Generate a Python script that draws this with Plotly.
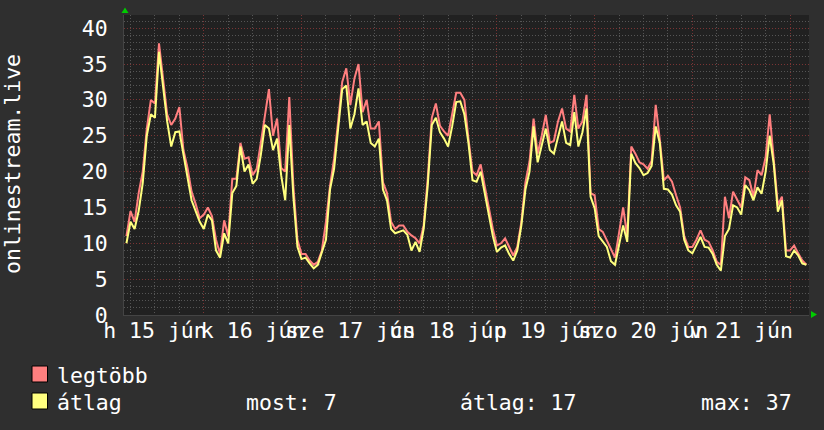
import plotly.graph_objects as go
import pandas as pd

# ---- data (hourly) ----
start_time = "2020-06-15 05:00"
legtobb = [11, 14.5, 13, 17, 20, 26, 30, 29.5, 37.9, 33, 28, 26.5, 27.4, 29, 23, 20.5, 17.2, 15.5, 13.5,
           14, 15, 13.8, 10.5, 8.5, 13.2, 11, 19, 19, 24, 21.8, 22, 19.5, 20.4, 24, 28, 31.5, 25, 27.4,
           20.5, 20, 30.4, 18, 10.5, 8.5, 8.5, 7.6, 7, 7.4, 9, 13, 18, 21.8, 27, 32.5, 34.4,
           29.3, 33, 35, 28.3, 30, 26, 26, 27, 18.5, 17, 13, 12, 12.5, 12.5, 11.6, 11.1, 10.7, 10,
           12.5, 19, 27.5, 29.5, 26.4, 25.6, 25, 28, 31, 31,
           30, 24.6, 20, 19.5, 21, 18, 14.8, 12, 9.7, 10, 10.7, 9.5, 8.3, 9.5, 13, 18.5, 21.4, 27.4,
           22.5, 25, 27.9, 24, 24.3, 27, 28.8, 26, 25.6, 30.7,
           26, 27, 30.7, 17, 16.7, 12, 11.6, 10.4, 9.3, 8, 11.5, 15, 11, 23.5, 22.5, 21.3, 21, 20.4,
           21.5, 29.3, 24.5, 18.8, 19.4, 18.6, 16.7, 15, 11, 9.5,
           9.5, 10.5, 11.8, 10.5, 10.2, 9, 7.4, 7, 16.5, 13.5, 17.2, 16, 15, 19.2, 18.8, 16.5, 20.2,
           19.5, 22, 28, 22, 15.3, 16.5, 9, 9, 9.7, 8.6, 7.6, 7]
atlag = [10, 13, 12, 14.5, 18.4, 25, 28, 27.5, 36.7, 31.5, 27, 23.5, 25.5, 25.6, 22.5, 19.5, 16, 14.5, 13,
         12, 14, 13.2, 9, 8, 11.4, 10, 17, 18, 23.5, 20, 21, 18.3, 19, 22.3, 26.5, 26, 23, 24.6,
         19.5, 16, 26.5, 16.5, 9.5, 7.8, 8, 7.2, 6.5, 7, 8.6, 10.5, 17.5, 20.4, 26, 31.5, 32,
         26, 28, 31.6, 26.5, 27, 24, 23.5, 24.6, 17.5, 16, 12, 11.4, 11.6, 11.8, 11.2, 9, 10.2, 8.8,
         12, 18, 26.5, 27.5, 25.5, 24.6, 23.5, 26.3, 29.7, 29.8,
         28, 24, 18.8, 18.6, 20, 17, 14.2, 11, 8.8, 9.4, 9.7, 8.5, 7.6, 9, 12.5, 17.5, 20, 26.3,
         21.3, 23.5, 26, 23, 22.5, 24.8, 27, 24, 23.7, 28.3,
         23.5, 25.5, 28.8, 16.5, 14.9, 11, 10.2, 9.5, 7.5, 7, 9.8, 12.5, 10.2, 22.5, 21.2, 20.5, 19.5, 19.8,
         20.8, 26.3, 24, 17.6, 17.5, 16.8, 15.3, 14.4, 10.5, 9,
         8.6, 9.8, 10.9, 9.5, 9.4, 8.5, 7, 6.2, 11, 12, 15.3, 15, 14, 18.1, 17.4, 16, 17.8,
         16.9, 20, 25, 21, 14.4, 16, 8.2, 8, 9, 8.3, 7.2, 7]
day_labels = ["h 15 jún", "k 16 jún", "sze 17 jún", "cs 18 jún", "p 19 jún", "szo 20 jún", "v 21 jún"]
label_times = ["2020-06-15 12:00", "2020-06-16 12:00", "2020-06-17 12:00", "2020-06-18 12:00",
               "2020-06-19 12:00", "2020-06-20 12:00", "2020-06-21 12:00"]
y_label = "onlinestream.live"
series_names = ["legtöbb", "átlag"]
stat_names = ["most", "átlag", "max"]
stat_values = [7, 17, 37]

times = pd.date_range(start_time, periods=len(atlag), freq="h")
x_range = ["2020-06-15 04:24", "2020-06-22 04:39"]

FONT = "DejaVu Sans Mono"
FS = 21.5
BG = "#2f2f2f"
PLOT_BG = "#212121"
RED = "#ff7f7f"
YEL = "#ffff7f"
GRID_RED = "#7a3434"
GRID_GRAY = "#555555"

W, H = 824, 430
L, R, T, B = 124, 809, 15, 315


def px(x):
    return (x - L) / (R - L)


def py(y):
    return (B - y) / (B - T)


fig = go.Figure()
fig.add_trace(go.Scatter(x=times, y=legtobb, mode="lines", line=dict(color=RED, width=2),
                         name=series_names[0], showlegend=False))
fig.add_trace(go.Scatter(x=times, y=atlag, mode="lines", line=dict(color=YEL, width=2),
                         name=series_names[1], showlegend=False))
# helper trace for the grid axis
fig.add_trace(go.Scatter(x=[times[0]], y=[None], xaxis="x2", yaxis="y", mode="lines",
                         showlegend=False, hoverinfo="skip"))

fig.update_layout(
    width=W, height=H, autosize=False,
    margin=dict(l=L, r=W - R, t=T, b=H - B, pad=0),
    paper_bgcolor=BG, plot_bgcolor=PLOT_BG,
    font=dict(family=FONT, size=FS, color="#ffffff"),
    xaxis=dict(type="date", range=x_range, tickvals=label_times, ticktext=day_labels,
               tickangle=0, showgrid=False, ticks="", zeroline=False,
               tickfont=dict(family=FONT, size=FS, color="#ffffff"),
               showline=True, linecolor="#444444", linewidth=1, ticklabelstandoff=-4),
    xaxis2=dict(type="date", range=x_range, overlaying="x", anchor="y", side="bottom",
                showticklabels=False, ticks="", dtick=86400000, tick0="2020-06-15 00:00",
                showgrid=True, gridcolor=GRID_RED, griddash="1px,2px", gridwidth=1,
                minor=dict(dtick=21600000, tick0="2020-06-15 00:00", showgrid=True,
                           gridcolor=GRID_GRAY, griddash="1px,2px", gridwidth=1),
                zeroline=False),
    yaxis=dict(range=[0, (B - T) / 7.17], dtick=5, tick0=0, ticks="",
               showgrid=True, gridcolor=GRID_RED, griddash="1px,2px", gridwidth=1,
               minor=dict(dtick=1, showgrid=True, gridcolor=GRID_GRAY, griddash="1px,2px", gridwidth=1),
               zeroline=False, tickfont=dict(family=FONT, size=FS, color="#ffffff"),
               showline=True, linecolor="#444444", linewidth=1, ticklabelstandoff=11),
    showlegend=False,
)

annotations = []
shapes = []
annotations.append(dict(text=y_label, textangle=-90, xref="paper", yref="paper",
                        x=px(12), y=py(164), xanchor="center", yanchor="middle",
                        showarrow=False, font=dict(family=FONT, size=FS, color="#ffffff")))

stat_x = [245, 459, 700]
rows = [(series_names[0], RED, 374, False), (series_names[1], YEL, 401, True)]
for name, col, yc, with_stats in rows:
    shapes.append(dict(type="rect", xref="paper", yref="paper", x0=px(32), x1=px(47.5),
                       y0=py(yc - 8), y1=py(yc + 8), fillcolor=col, line=dict(color="#000000", width=1)))
    annotations.append(dict(text=name, xref="paper", yref="paper", x=px(56), y=py(yc + 1),
                            xanchor="left", yanchor="middle", showarrow=False, borderpad=0,
                            font=dict(family=FONT, size=FS, color="#ffffff")))
    if with_stats:
        for sname, sval, xx in zip(stat_names, stat_values, stat_x):
            annotations.append(dict(text=f"{sname}: {sval}", xref="paper", yref="paper",
                                    x=px(xx), y=py(yc + 1),
                                    xanchor="left", yanchor="middle", showarrow=False, borderpad=0,
                                    font=dict(family=FONT, size=FS, color="#ffffff")))

# green axis arrows
shapes.append(dict(type="path", xref="paper", yref="paper",
                   path=f"M {px(121.5)},{py(13)} L {px(128.5)},{py(13)} L {px(125)},{py(7.5)} Z",
                   fillcolor="#00cc00", line=dict(width=0)))
shapes.append(dict(type="path", xref="paper", yref="paper",
                   path=f"M {px(811)},{py(311)} L {px(811)},{py(318)} L {px(817)},{py(314.5)} Z",
                   fillcolor="#00cc00", line=dict(width=0)))

fig.update_layout(annotations=annotations, shapes=shapes)
fig.write_html("out.html")
